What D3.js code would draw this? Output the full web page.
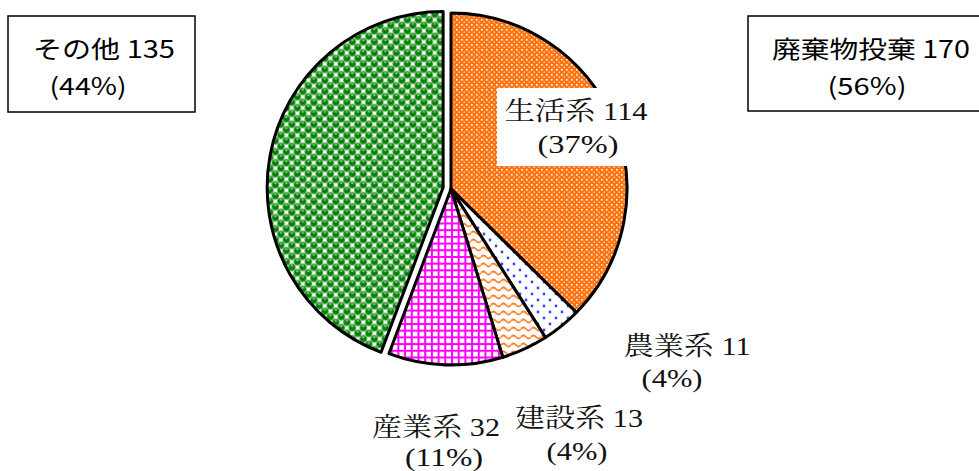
<!DOCTYPE html>
<html>
<head>
<meta charset="utf-8">
<script src="https://cdn.jsdelivr.net/npm/d3@7"></script>
<style>
  body { margin: 0; background: #fff; }
</style>
</head>
<body>
<div id="chart"></div>
<script>
'use strict';

// slices, clockwise from 12 o'clock
const categories = ['生活系', '農業系', '建設系', '産業系', 'その他'];
const values = [114, 11, 13, 32, 135];
const percentLabels = ['(37%)', '(4%)', '(4%)', '(11%)', '(44%)'];

// summary boxes
const groupNames = ['その他', '廃棄物投棄'];
const groupValues = [135, 170];
const groupPercentLabels = ['(44%)', '(56%)'];

window.addEventListener('load', () => {
    const width = 979, height = 471;
    const cx = 451, cy = 189, radius = 176;
    const explode = 8;

    const svg = d3.select('#chart')
      .append('svg')
        .attr('width', width)
        .attr('height', height);

    const defs = svg.append('defs');

    // orange lattice (生活系)
    const pOrange = defs.append('pattern')
        .attr('id', 'pat0').attr('patternUnits', 'userSpaceOnUse')
        .attr('width', 5).attr('height', 5);
    pOrange.append('rect').attr('width', 5).attr('height', 5).attr('fill', '#ff7410');
    pOrange.append('rect').attr('x', 0).attr('y', 0).attr('width', 1.6).attr('height', 1.6).attr('fill', '#ffffff');
    pOrange.append('rect').attr('x', 2.5).attr('y', 2.5).attr('width', 1.4).attr('height', 1.4).attr('fill', '#ffd0ad');

    // blue dots (農業系)
    const pDots = defs.append('pattern')
        .attr('id', 'pat1').attr('patternUnits', 'userSpaceOnUse')
        .attr('width', 12).attr('height', 12);
    pDots.append('rect').attr('width', 12).attr('height', 12).attr('fill', '#fff');
    pDots.append('circle').attr('cx', 3).attr('cy', 3).attr('r', 1.4).attr('fill', '#3346ff');
    pDots.append('circle').attr('cx', 9).attr('cy', 9).attr('r', 1.4).attr('fill', '#3346ff');

    // orange waves (建設系)
    const pWave = defs.append('pattern')
        .attr('id', 'pat2').attr('patternUnits', 'userSpaceOnUse')
        .attr('width', 10).attr('height', 8);
    pWave.append('rect').attr('width', 10).attr('height', 8).attr('fill', '#fff');
    pWave.append('path')
        .attr('d', 'M0,4 Q2.5,1 5,4 T10,4')
        .attr('fill', 'none').attr('stroke', '#ff7f27').attr('stroke-width', 1.8);

    // magenta grid (産業系)
    const pGrid = defs.append('pattern')
        .attr('id', 'pat3').attr('patternUnits', 'userSpaceOnUse')
        .attr('width', 6.7).attr('height', 6.7);
    pGrid.append('rect').attr('width', 6.7).attr('height', 6.7).attr('fill', '#fff');
    pGrid.append('rect').attr('width', 2).attr('height', 6.7).attr('fill', '#ff00ff');
    pGrid.append('rect').attr('width', 6.7).attr('height', 2).attr('fill', '#ff00ff');

    // green spheres on white checker (その他)
    const ball = 11, half = ball / 2, q = ball / 4;
    const pBall = defs.append('pattern')
        .attr('id', 'pat4').attr('patternUnits', 'userSpaceOnUse')
        .attr('width', ball).attr('height', ball);
    pBall.append('rect').attr('width', ball).attr('height', ball).attr('fill', '#fff');
    [[q, q], [q + half, q + half], [q - half, q + half], [q + ball, q],
     [q + half, q - half], [q, q + ball]].forEach(([x, y]) => {
        pBall.append('circle').attr('cx', x).attr('cy', y).attr('r', 3.7)
            .attr('fill', '#058005').attr('stroke', '#9ad39a').attr('stroke-width', 0.6);
        pBall.append('ellipse').attr('cx', x).attr('cy', y - 1.7).attr('rx', 1.4).attr('ry', 0.6).attr('fill', '#e0f4e0');
    });

    const pie = d3.pie().sort(null).value(d => d);
    const arcs = pie(values);
    const arc = d3.arc().innerRadius(0).outerRadius(radius);

    const g = svg.append('g').attr('transform', `translate(${cx},${cy})`);

    g.selectAll('path.slice')
      .data(arcs)
      .join('path')
        .attr('class', 'slice')
        .attr('transform', (d, i) => {
            if (i !== categories.length - 1) return null;
            const mid = (d.startAngle + d.endAngle) / 2;
            return `translate(${Math.sin(mid) * explode},${-Math.cos(mid) * explode})`;
        })
        .attr('d', arc)
        .attr('fill', (d, i) => `url(#pat${i})`)
        .attr('stroke', '#000')
        .attr('stroke-width', 3)
        .attr('stroke-linejoin', 'round');

    // slice labels (serif, like the original Mincho)
    const labelLayout = [
        {dx: 125, dy: -69, dx2: 127, dy2: -36, w1: 143, w2: 81, bg: true},
        {dx: 236, dy: 166, dx2: 221, dy2: 198, w1: 127, w2: 61},
        {dx: 128, dy: 238, dx2: 126, dy2: 271, w1: 128, w2: 61},
        {dx: -15, dy: 247, dx2: -7, dy2: 277, w1: 128, w2: 78}
    ];
    const serif = '"Liberation Serif", "Noto Serif CJK JP", "Noto Sans CJK JP", serif';

    labelLayout.forEach((l, i) => {
        const lg = svg.append('g');
        if (l.bg) {
            lg.append('rect')
                .attr('x', cx + l.dx - 79).attr('y', cy + l.dy - 32)
                .attr('width', 158).attr('height', 78)
                .attr('fill', '#fff');
        }
        lg.append('text')
            .attr('x', cx + l.dx).attr('y', cy + l.dy)
            .attr('text-anchor', 'middle')
            .attr('font-family', serif).attr('font-size', 26)
            .attr('textLength', l.w1).attr('lengthAdjust', 'spacingAndGlyphs')
            .attr('fill', '#111')
            .text(`${categories[i]} ${values[i]}`);
        lg.append('text')
            .attr('x', cx + l.dx2).attr('y', cy + l.dy2)
            .attr('text-anchor', 'middle')
            .attr('font-family', serif).attr('font-size', 26)
            .attr('textLength', l.w2).attr('lengthAdjust', 'spacingAndGlyphs')
            .attr('fill', '#111')
            .text(percentLabels[i]);
    });

    // summary boxes
    const sans = '"Noto Sans CJK JP", "Noto Sans", sans-serif';
    const boxes = [
        {x: 8, y: 16, w: 187, h: 96, t1x: 104, t2x: 88, w1: 142, w2: 77},
        {x: 748, y: 16, w: 240, h: 95, t1x: 871, t2x: 867, w1: 198, w2: 79}
    ];
    boxes.forEach((b, i) => {
        svg.append('rect')
            .attr('x', b.x).attr('y', b.y).attr('width', b.w).attr('height', b.h)
            .attr('fill', '#fff').attr('stroke', '#000').attr('stroke-width', 1.5);
        svg.append('text')
            .attr('x', b.t1x).attr('y', 58)
            .attr('text-anchor', 'middle')
            .attr('font-family', sans).attr('font-size', 24)
            .attr('textLength', b.w1).attr('lengthAdjust', 'spacingAndGlyphs')
            .attr('fill', '#000')
            .text(`${groupNames[i]} ${groupValues[i]}`);
        svg.append('text')
            .attr('x', b.t2x).attr('y', 95)
            .attr('text-anchor', 'middle')
            .attr('font-family', sans).attr('font-size', 24)
            .attr('textLength', b.w2).attr('lengthAdjust', 'spacingAndGlyphs')
            .attr('fill', '#000')
            .text(groupPercentLabels[i]);
    });
});
</script>
</body>
</html>
